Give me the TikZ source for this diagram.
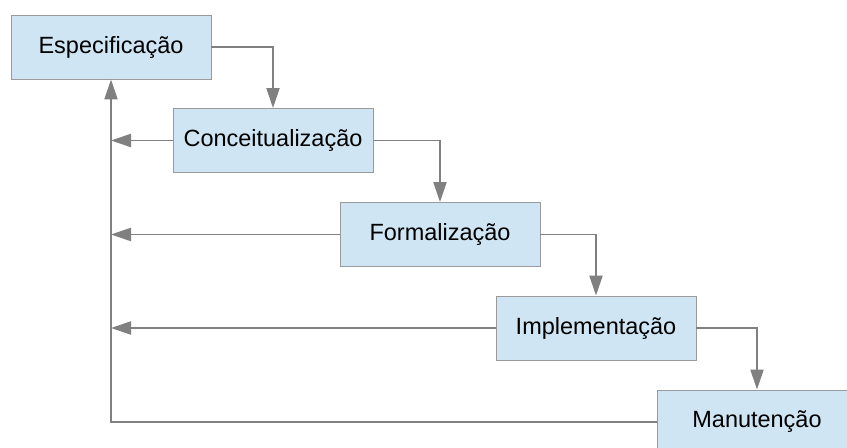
\documentclass[tikz,border=0pt]{standalone}
\usepackage{fontspec}
\setmainfont{Liberation Sans}
\usetikzlibrary{arrows.meta}
\definecolor{boxfill}{HTML}{CFE5F4}
\definecolor{boxline}{HTML}{9A9A9A}
\definecolor{linkgray}{HTML}{808080}

\begin{document}
\begin{tikzpicture}[
  phase/.style={draw=boxline, line width=0.7pt, fill=boxfill, minimum width=5cm,
    minimum height=1.6cm, inner sep=0pt, font=\fontsize{16.7}{20}\selectfont},
  link/.style={draw=linkgray, line width=1.1pt,
    -{Triangle[length=0.5cm,width=0.33cm]}},
  feed/.style={draw=linkgray, line width=1.1pt}
]
\useasboundingbox (0,0) rectangle (21.175,11.2);
\clip (0,0) rectangle (21.175,11.2);

\node[phase] (espec) at (2.775,10.025) {Especificação};
\node[phase] (concei) at (6.825,7.6875) {Conceitualização};
\node[phase] (formal) at (11.0,5.3375) {Formalização};
\node[phase] (implem) at (14.9,3.0) {Implementação};
\node[phase] (manut) at (18.925,0.65) {Manutenção};

% descida em cascata
\draw[link] (espec.east) -| (concei.north);
\draw[link] (concei.east) -| (formal.north);
\draw[link] (formal.east) -| (implem.north);
\draw[link] (implem.east) -| (manut.north);

% retorno
\draw[link] (concei.west) -- (concei.west -| espec.south);
\draw[link] (formal.west) -- (formal.west -| espec.south);
\draw[link] (implem.west) -- (implem.west -| espec.south);
\draw[link] (manut.west) -| (espec.south);
\end{tikzpicture}
\end{document}
